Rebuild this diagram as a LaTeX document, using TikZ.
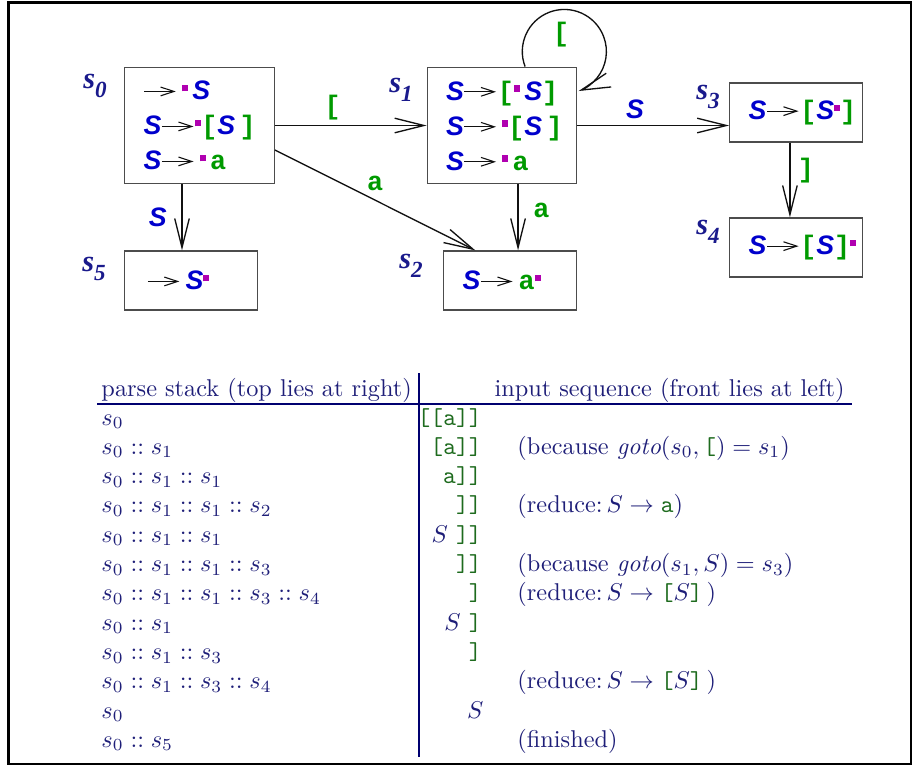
\documentclass[tikz,border=0pt]{standalone}
\usepackage{fontspec}
\usetikzlibrary{arrows.meta,positioning}
\newfontfamily\diagsans{Liberation Sans}
\newfontfamily\diagmono{Liberation Mono}
\newfontfamily\labfont{Liberation Serif}
\definecolor{cSym}{HTML}{0000CC}
\definecolor{cTok}{HTML}{009A00}
\definecolor{cDot}{HTML}{B000B0}
\definecolor{cLab}{HTML}{1A1A8C}
\definecolor{cText}{HTML}{1E1E78}
\definecolor{cTT}{HTML}{1E6B1E}
\definecolor{cRule}{HTML}{000070}
\definecolor{cInk}{HTML}{111111}
\newcommand\nS{\textcolor{cSym}{\diagsans\bfseries\itshape S}}
\newcommand\tok[1]{\textcolor{cTok}{\diagmono\bfseries\fontsize{11}{14.4}\selectfont #1}}
\newcommand\itemdot{\textcolor{cDot}{\rule[3.4pt]{2.5pt}{2.6pt}}}
\newcommand\prodarr{\tikz[baseline=-3.4pt]\draw[line width=0.45pt,draw=cInk,-{Straight Barb[length=5.5pt,width=3.6pt]}](0pt,0pt)--(13pt,0pt);}
\newcommand\stlab[1]{\textcolor{cLab}{\labfont\bfseries\itshape s\raisebox{-0.6ex}{\fontsize{9.5}{9.5}\selectfont #1}}}
\newcommand\ttok[1]{\textcolor{cTT}{\texttt{#1}}}
\tikzset{
  stbox/.style={draw=cInk!75, line width=0.5pt, fill=white, align=left, inner xsep=7.8pt, font=\fontsize{11}{14.4}\selectfont},
  bigst/.style={stbox, text width=46pt, minimum height=48pt},
  smallst/.style={stbox, text width=39pt, minimum height=24.3pt},
  slab/.style={font=\fontsize{12.5}{12.5}\selectfont, inner sep=0pt},
  elab/.style={font=\fontsize{11}{11}\selectfont, inner sep=1pt},
  tarr/.style={-{Straight Barb[length=12pt,width=6pt]}, line width=0.55pt, draw=cInk},
  cell/.style={anchor=base west, inner sep=0pt, text=cText},
  inp/.style={anchor=base east, inner sep=0pt, text=cText},
  trule/.style={draw=cRule, line width=0.9pt},
}
\begin{document}
\begin{tikzpicture}[x=0.4115pt,y=-0.4115pt]
\useasboundingbox (0,0) rectangle (914,766);
\draw[line width=1pt] (8.5,2.5) rectangle (911,764);
\node[bigst] (s0) at (199.5,125.5) {\prodarr\,\itemdot\,\nS\\ \nS\prodarr\itemdot\tok{[}\nS\,\tok{]}\\ \nS\prodarr\,\itemdot\,\tok{a}};
\node[bigst] (s1) at (502,125.5) {\nS\prodarr\tok{[}\itemdot\,\nS\tok{]}\\ \nS\prodarr\,\itemdot\tok{[}\nS\,\tok{]}\\ \nS\prodarr\,\itemdot\,\tok{a}};
\node[smallst] (s3) at (796,112.5) {\nS\prodarr\tok{[}\nS\itemdot\tok{]}};
\node[smallst] (s4) at (796,247.5) {\nS\prodarr\tok{[}\nS\tok{]}\itemdot};
\node[smallst] (s5) at (191,280.5) {\hspace{1.5pt}\prodarr\,\nS\itemdot};
\node[smallst] (s2) at (510,280.5) {\nS\prodarr\,\tok{a}\itemdot};
\node[slab] (l0) at (95,86) {\stlab{0}};
\node[slab] (l1) at (401,90) {\stlab{1}};
\node[slab] (l3) at (708,97) {\stlab{3}};
\node[slab] (l4) at (708,232) {\stlab{4}};
\node[slab] (l5) at (94,269) {\stlab{5}};
\node[slab] (l2) at (411,266) {\stlab{2}};
\draw[tarr] (s0) -- (s1) node[elab, pos=0.38, above=1pt]{\tok{[}};
\draw[tarr] (s1.east) -- (s1.east -| s3.west) node[elab, pos=0.38, above=1.5pt]{\nS};
\draw[tarr] (s0.-18) -- (s2.139) node[elab, midway, above=2.6pt]{\tok{a}};
\draw[tarr] ([xshift=-7.2pt]s0.south) -- ([xshift=-7.2pt]s0.south |- s5.north) node[elab, midway, left=5pt]{\nS};
\draw[tarr] ([xshift=6.6pt]s1.south) -- ([xshift=6.6pt]s1.south |- s2.north) node[elab, pos=0.39, right=5pt]{\tok{a}};
\draw[tarr] ([xshift=-2.5pt]s3.south) -- ([xshift=-2.5pt]s3.south |- s4.north) node[elab, pos=0.37, right=2pt]{\tok{]}};
\draw[tarr] ([xshift=9.5pt]s1.north) arc[start angle=201, end angle=-70, radius=17.3pt];
\node[elab] (lp) at ([xshift=24.3pt,yshift=13.2pt]s1.north) {\tok{[}};
\node[cell] (h1) at (101,396) {parse stack (top lies at right)};
\node[inp] (h2) at (845,396) {input sequence (front lies at left)};
\draw[trule] (97,404) -- (852,404);
\draw[trule] (419,373) -- (419,757);
\node[cell] (p1) at (101,425) {$s_0$};
\node[cell] (p2) at (101,454.3) {$s_0 :: s_1$};
\node[cell] (p3) at (101,483.6) {$s_0 :: s_1 :: s_1$};
\node[cell] (p4) at (101,512.9) {$s_0 :: s_1 :: s_1 :: s_2$};
\node[cell] (p5) at (101,542.2) {$s_0 :: s_1 :: s_1$};
\node[cell] (p6) at (101,571.5) {$s_0 :: s_1 :: s_1 :: s_3$};
\node[cell] (p7) at (101,600.8) {$s_0 :: s_1 :: s_1 :: s_3 :: s_4$};
\node[cell] (p8) at (101,630.1) {$s_0 :: s_1$};
\node[cell] (p9) at (101,659.4) {$s_0 :: s_1 :: s_3$};
\node[cell] (p10) at (101,688.7) {$s_0 :: s_1 :: s_3 :: s_4$};
\node[cell] (p11) at (101,718) {$s_0$};
\node[cell] (p12) at (101,747.3) {$s_0 :: s_5$};
\node[inp] (i1) at (482,425) {\ttok{[[a]]}};
\node[inp] (i2) at (482,454.3) {\ttok{[a]]}};
\node[inp] (i3) at (482,483.6) {\ttok{a]]}};
\node[inp] (i4) at (482,512.9) {\ttok{]]}};
\node[inp] (i5) at (482,542.2) {$S$\ \ttok{]]}};
\node[inp] (i6) at (482,571.5) {\ttok{]]}};
\node[inp] (i7) at (482,600.8) {\ttok{]}};
\node[inp] (i8) at (482,630.1) {$S$\ \ttok{]}};
\node[inp] (i9) at (482,659.4) {\ttok{]}};
\node[inp] (i11) at (484,718) {$S$};
\node[cell] (c2) at (517,454.3) {(because $\mathit{goto}(s_0,\ttok{[})=s_1$)};
\node[cell] (c4) at (517,512.9) {(reduce:\,$S\rightarrow\ttok{a}$)};
\node[cell] (c6) at (517,571.5) {(because $\mathit{goto}(s_1,S)=s_3$)};
\node[cell] (c7) at (517,600.8) {(reduce:\,$S\rightarrow\ttok{[}S\ttok{]}$\,)};
\node[cell] (c10) at (517,688.7) {(reduce:\,$S\rightarrow\ttok{[}S\ttok{]}$\,)};
\node[cell] (c12) at (517,747.3) {(finished)};
\end{tikzpicture}
\end{document}
